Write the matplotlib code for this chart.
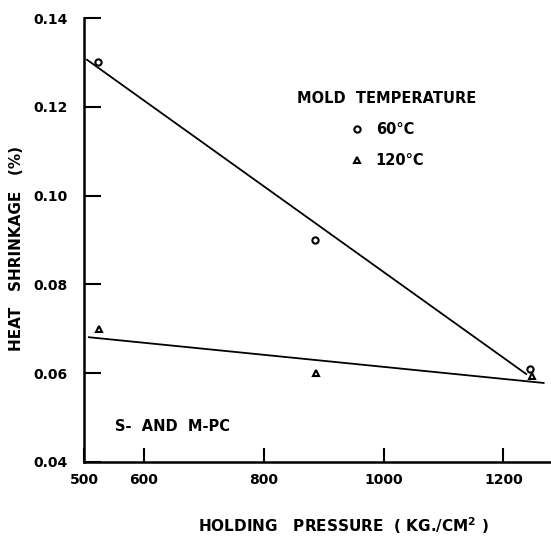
import matplotlib
matplotlib.use("Agg")
import matplotlib.pyplot as plt
from matplotlib.lines import Line2D

# data
p60 = [523, 885, 1245]
s60 = [0.130, 0.090, 0.061]
p120 = [525, 887, 1247]
s120 = [0.070, 0.060, 0.0593]
# fitted lines (endpoints)
fit60_x = [505, 1238]
fit60_y = [0.1306, 0.0598]
fit120_x = [508, 1267]
fit120_y = [0.0681, 0.0578]

xticks = [500, 600, 800, 1000, 1200]
yticks = [0.04, 0.06, 0.08, 0.10, 0.12, 0.14]

plt.rcParams['font.family'] = ['DejaVu Sans']
plt.rcParams['font.weight'] = 'bold'

fig = plt.figure(figsize=(5.51, 5.38), dpi=100)
ax = fig.add_axes([0.1525, 0.1413, 0.845, 0.8252])

ax.plot(fit60_x, fit60_y, color='black', lw=1.3)
ax.plot(fit120_x, fit120_y, color='black', lw=1.3)
ax.plot(p60, s60, 'o', ms=4.5, mfc='white', mec='black', mew=1.5, ls='none')
ax.plot(p120, s120, '^', ms=5, mfc='white', mec='black', mew=1.5, ls='none')

ax.set_xlim(500, 1277)
ax.set_ylim(0.04, 0.14)
ax.set_xticks(xticks)
ax.set_yticks(yticks)
ax.set_xticklabels([str(v) for v in xticks])
ax.set_yticklabels([f"{v:.2f}" for v in yticks])
ax.tick_params(direction='in', width=1.5, length=10, labelsize=10, pad=8)
ax.tick_params(axis='y', length=12, pad=12)
for s in ['top', 'right']:
    ax.spines[s].set_visible(False)
for s in ['left', 'bottom']:
    ax.spines[s].set_linewidth(1.8)

ax.set_xlabel("HOLDING   PRESSURE  ( KG./CM$^{\\mathbf{2}}$ )", fontsize=11, fontweight='bold',
              va='center')
ax.xaxis.set_label_coords(0.558, -0.143)
ax.set_ylabel("HEAT   SHRINKAGE   (%)", fontsize=11, fontweight='bold', va='center')
ax.yaxis.set_label_coords(-0.144, 0.48)

handles = [Line2D([], [], marker='o', ms=4.5, mfc='white', mec='black', mew=1.5, ls='none'),
           Line2D([], [], marker='^', ms=5, mfc='white', mec='black', mew=1.5, ls='none')]
leg = ax.legend(handles, ["60°C", "120°C"], title="MOLD  TEMPERATURE", frameon=False,
                loc='upper left', bbox_to_anchor=(0.43, 0.865), fontsize=10.5,
                title_fontsize=10.5, handletextpad=0.8, handlelength=1.0, labelspacing=1.1)
leg.get_title().set_fontweight('bold')

ax.text(0.067, 0.079, "S-  AND  M-PC", transform=ax.transAxes, fontsize=10.5,
        fontweight='bold', va='center')

fig.savefig("out.png", dpi=100)
